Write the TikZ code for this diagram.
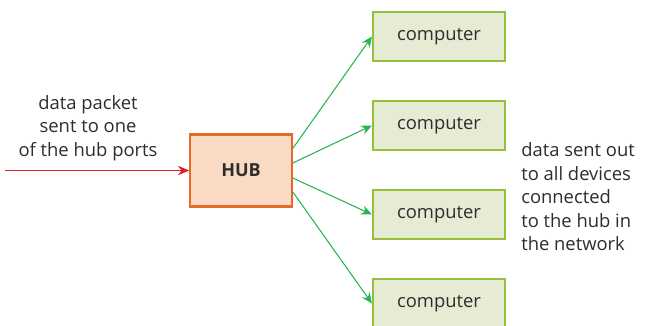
\documentclass[tikz,border=0pt]{standalone}
\usepackage{fontspec}
\setmainfont{Open Sans}
\usetikzlibrary{arrows.meta,positioning}
\definecolor{hubfill}{RGB}{250,218,196}
\definecolor{hubline}{RGB}{230,105,40}
\definecolor{pcfill}{RGB}{230,236,211}
\definecolor{pcline}{RGB}{150,192,60}
\definecolor{linkgreen}{RGB}{40,180,80}
\definecolor{pktred}{RGB}{222,30,40}
\definecolor{txt}{RGB}{45,45,45}
\tikzset{
  hubbox/.style={draw=hubline, fill=hubfill, line width=1.6pt,
                 minimum width=76pt, minimum height=54pt, inner sep=0pt,
                 font=\fontsize{13.5}{16}\selectfont\bfseries, text=txt},
  pcbox/.style={draw=pcline, fill=pcfill, line width=1.6pt,
                minimum width=99pt, minimum height=37pt, inner sep=0pt,
                font=\fontsize{13.8}{16}\selectfont, text=txt},
  note/.style={font=\fontsize{13.8}{17.6}\selectfont, text=txt, inner sep=0pt},
  linkarr/.style={-{Stealth[length=8pt,width=7pt]}, linkgreen, line width=0.8pt},
  pktarr/.style={-{Stealth[length=8.5pt,width=7pt]}, pktred, line width=0.8pt},
}

\begin{document}
\begin{tikzpicture}[x=0.75pt, y=-0.75pt]
  \useasboundingbox (0,0) rectangle (646,325);
  % hub and computers
  \node[hubbox] (hub) at (241,170.5) {HUB};
  \foreach \i/\y in {1/36.5, 2/125.5, 3/214.5, 4/303.5}
    \node[pcbox] (pc\i) at (439,\y) {computer};
  % incoming packet
  \coordinate (src) at (5,170.5);
  \draw[pktarr] (src) -- (hub.west);
  \node[note, align=center] (intxt) at (88,128) {data packet\\sent to one\\of the hub ports};
  % links out to every computer
  \foreach \i/\s in {1/16.5, 2/5.6, 3/-5.6, 4/-16}
    \draw[linkarr] ([yshift=\s pt]hub.east) -- (pc\i.west);
  \node[note, align=left, anchor=west] (outtxt) at (521,197) {data sent out\\to all devices\\connected\\to the hub in\\the network};
\end{tikzpicture}
\end{document}
